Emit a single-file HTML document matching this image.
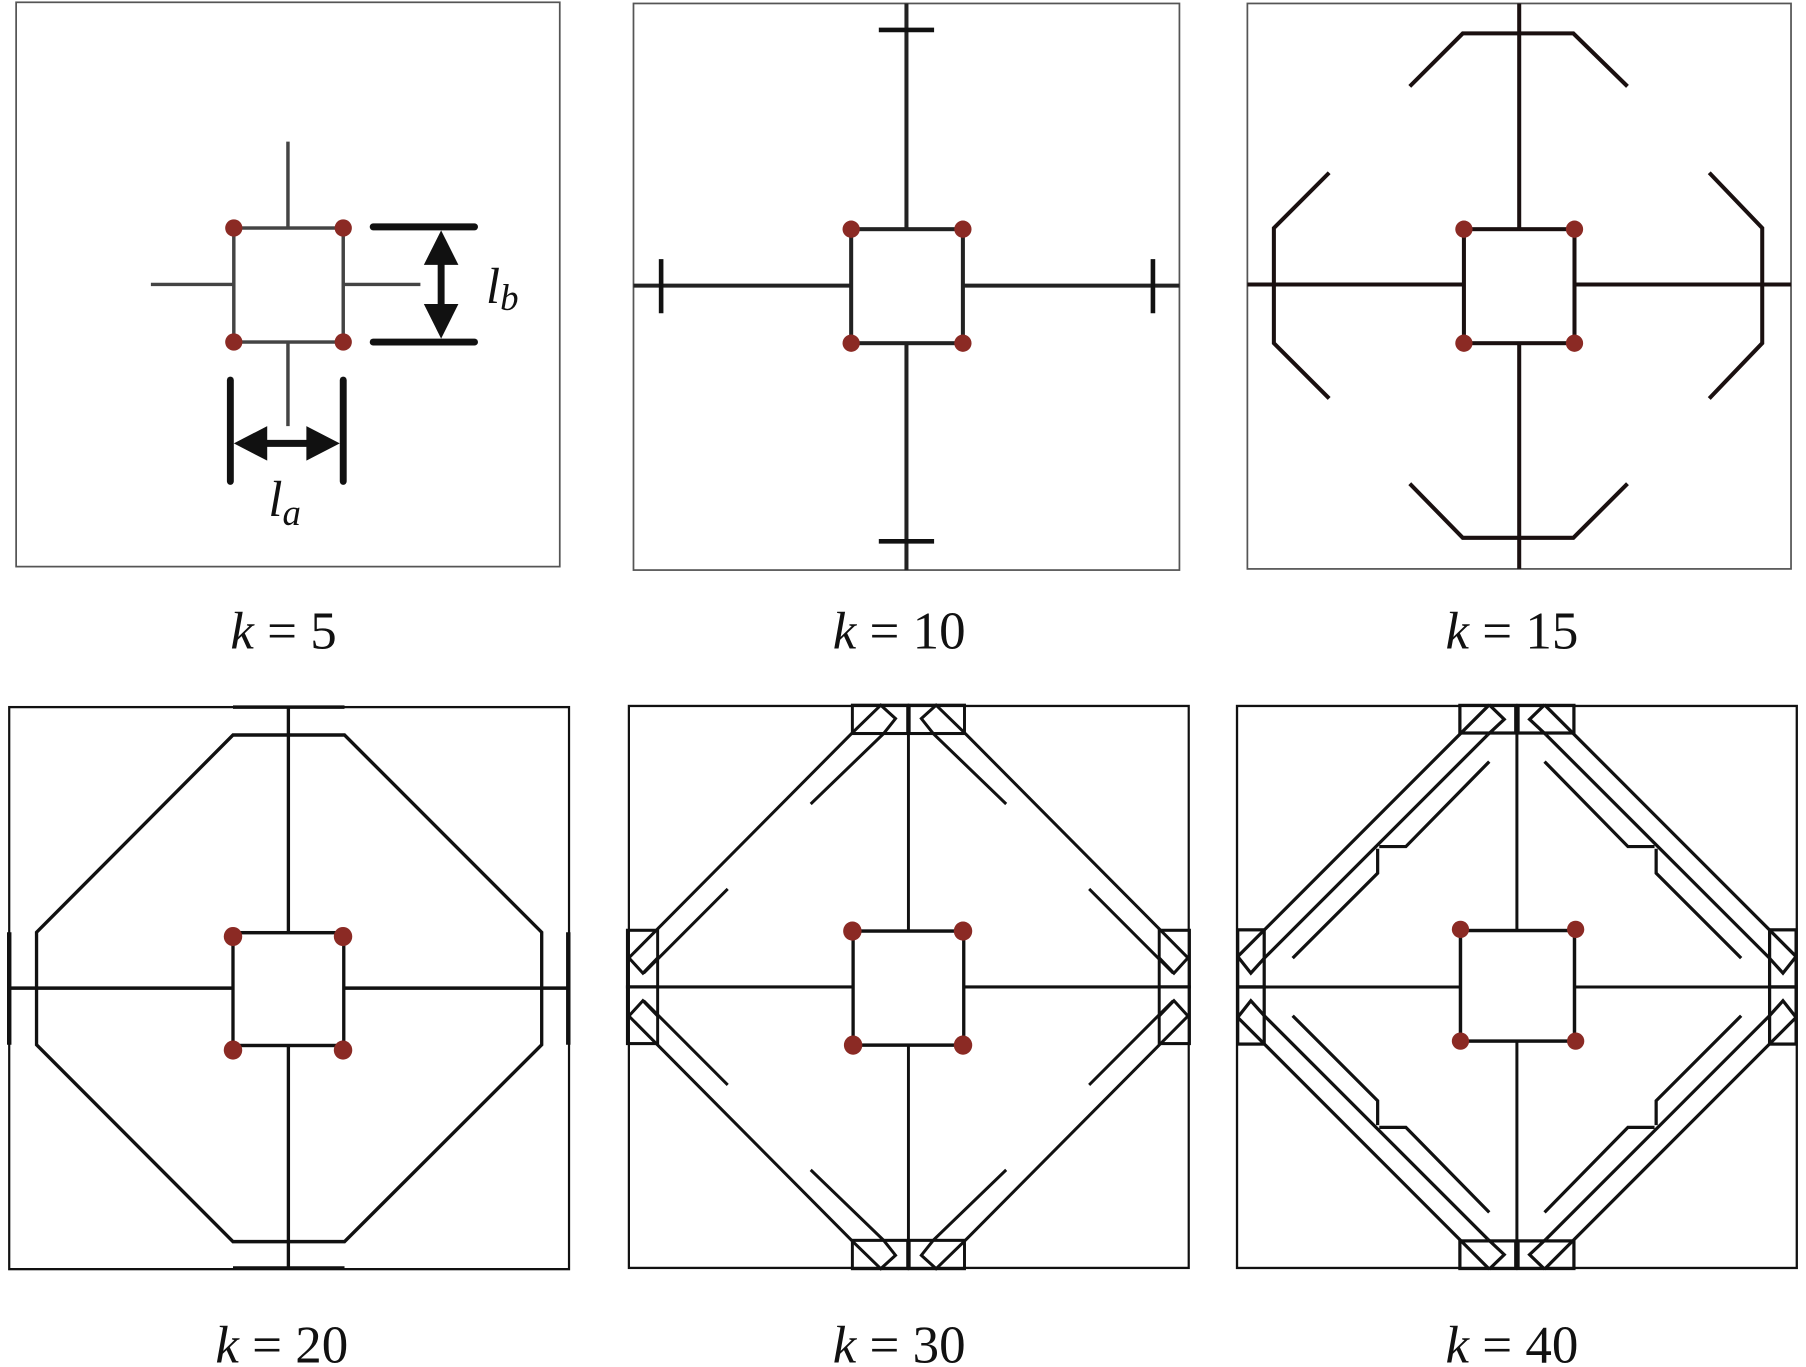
<!DOCTYPE html>
<html><head><meta charset="utf-8"><style>
html,body{margin:0;padding:0;background:#fff;}
svg{display:block;}
</style></head><body>
<svg width="1806" height="1367" viewBox="0 0 1568 1187" preserveAspectRatio="none" xmlns="http://www.w3.org/2000/svg" font-family="'Liberation Serif', serif">
<defs>
<g id="q5" fill="none" stroke="#111" stroke-width="8">
 <rect x="628" y="40" width="150" height="74"/>
 <polyline points="628,112 705,40 745,75 712,115"/>
 <line x1="628" y1="112" x2="22" y2="700"/>
 <line x1="712" y1="115" x2="515" y2="298"/>
 <line x1="290" y1="520" x2="62" y2="740"/>
 <polyline points="22,700 60,740 100,700"/>
 <rect x="18" y="628" width="82" height="148"/>
</g>
<g id="q6" fill="none" stroke="#111" stroke-width="2.8" stroke-linejoin="miter">
 <rect x="1267.5" y="612.5" width="48.5" height="24"/>
 <line x1="1293" y1="612" x2="1074.6" y2="830.6"/>
 <polyline points="1293,612 1306,624.6 1291.5,638.2"/>
 <line x1="1291.5" y1="638.2" x2="1097.7" y2="832"/>
 <polyline points="1074.6,830.6 1086,845 1097.7,832"/>
 <polyline points="1293,661.3 1220.6,735.1 1197.5,735.1"/>
 <polyline points="1196.1,737 1196.1,758.2 1122.3,832"/>
 <rect x="1074.6" y="807.4" width="23" height="49.6"/>
</g>
</defs>

<!-- Panel 1 -->
<rect x="14" y="2" width="472" height="490" fill="none" stroke="#555" stroke-width="1.5"/>
<g stroke="#444" stroke-width="3" fill="none">
 <rect x="203" y="198" width="95" height="99"/>
 <line x1="250" y1="123" x2="250" y2="198"/>
 <line x1="250" y1="297" x2="250" y2="370"/>
 <line x1="131" y1="247" x2="203" y2="247"/>
 <line x1="298" y1="247" x2="365" y2="247"/>
</g>
<g stroke="#111" stroke-width="6" stroke-linecap="round">
 <line x1="324" y1="197" x2="412" y2="197"/>
 <line x1="324" y1="297" x2="412" y2="297"/>
 <line x1="383" y1="215" x2="383" y2="280"/>
 <line x1="200" y1="330" x2="200" y2="418"/>
 <line x1="298" y1="330" x2="298" y2="418"/>
 <line x1="220" y1="385" x2="280" y2="385"/>
</g>
<g fill="#111">
 <polygon points="383,200 368,230 398,230"/>
 <polygon points="383,294 368,264 398,264"/>
 <polygon points="203,385 232,370 232,400"/>
 <polygon points="295,385 266,370 266,400"/>
</g>
<g fill="#8b2a24">
 <circle cx="203" cy="198" r="7.5"/><circle cx="298" cy="198" r="7.5"/>
 <circle cx="203" cy="297" r="7.5"/><circle cx="298" cy="297" r="7.5"/>
</g>
<text x="422" y="263" font-size="44" font-style="italic" fill="#111">l<tspan font-size="32" dy="6">b</tspan></text>
<text x="233" y="448" font-size="44" font-style="italic" fill="#111">l<tspan font-size="32" dy="8">a</tspan></text>

<!-- Panel 2 -->
<rect x="550" y="3" width="474" height="492" fill="none" stroke="#555" stroke-width="1.5"/>
<g stroke="#222" stroke-width="3.5" fill="none">
 <line x1="787" y1="3" x2="787" y2="495"/>
 <line x1="550" y1="248" x2="1024" y2="248"/>
 <rect x="739" y="199" width="97" height="99" fill="#fff"/>
</g>
<g stroke="#111" stroke-width="4">
 <line x1="763" y1="26" x2="811" y2="26"/>
 <line x1="763" y1="470" x2="811" y2="470"/>
 <line x1="574" y1="225" x2="574" y2="272"/>
 <line x1="1001" y1="225" x2="1001" y2="272"/>
</g>
<g fill="#8b2a24">
 <circle cx="739" cy="199" r="7.5"/><circle cx="836" cy="199" r="7.5"/>
 <circle cx="739" cy="298" r="7.5"/><circle cx="836" cy="298" r="7.5"/>
</g>

<!-- Panel 3 -->
<rect x="1083" y="3" width="472" height="491" fill="none" stroke="#555" stroke-width="1.5"/>
<g stroke="#1a1010" stroke-width="3.5" fill="none">
 <line x1="1319" y1="3" x2="1319" y2="494"/>
 <line x1="1083" y1="247" x2="1555" y2="247"/>
 <rect x="1271" y="199" width="96" height="99" fill="#fff"/>
 <polyline points="1224,75 1270,29 1366,29 1413,75"/>
 <polyline points="1224,420 1270,467 1366,467 1413,420"/>
 <polyline points="1154,150 1106,198 1106,298 1154,346"/>
 <polyline points="1484,150 1530,198 1530,298 1484,346"/>
</g>
<g fill="#8b2a24">
 <circle cx="1271" cy="199" r="7.5"/><circle cx="1367" cy="199" r="7.5"/>
 <circle cx="1271" cy="298" r="7.5"/><circle cx="1367" cy="298" r="7.5"/>
</g>

<!-- Panel 4 -->
<g transform="translate(0.31,599.06) scale(0.3206,0.332)">
 <rect x="24" y="45" width="1516" height="1470" fill="none" stroke="#111" stroke-width="6"/>
 <g fill="none" stroke="#111" stroke-width="9">
  <line x1="780" y1="45" x2="780" y2="1515"/>
  <line x1="24" y1="780" x2="1540" y2="780"/>
  <polygon points="630,118 932,118 1466,634 1466,928 932,1443 630,1443 98,928 98,634"/>
  <rect x="630" y="635" width="300" height="295" fill="#fff"/>
  <line x1="630" y1="45" x2="932" y2="45"/>
  <line x1="630" y1="1512" x2="932" y2="1512"/>
  <line x1="24" y1="634" x2="24" y2="928" stroke-width="12"/>
  <line x1="1538" y1="634" x2="1538" y2="928" stroke-width="12"/>
 </g>
 <g fill="#8b2a24">
  <circle cx="630" cy="645" r="25"/><circle cx="928" cy="645" r="25"/>
  <circle cx="630" cy="942" r="25"/><circle cx="928" cy="942" r="25"/>
 </g>
</g>

<!-- Panel 5 -->
<g transform="translate(538.96,599.04) scale(0.3202,0.3324)">
 <rect x="22" y="42" width="1518" height="1468" fill="none" stroke="#111" stroke-width="6"/>
 <g fill="none" stroke="#111" stroke-width="8">
  <line x1="780" y1="42" x2="780" y2="1510"/>
  <line x1="22" y1="776" x2="1540" y2="776"/>
 </g>
 <use href="#q5"/>
 <use href="#q5" transform="matrix(-1 0 0 1 1560 0)"/>
 <use href="#q5" transform="matrix(1 0 0 -1 0 1552)"/>
 <use href="#q5" transform="matrix(-1 0 0 -1 1560 1552)"/>
 <rect x="630" y="630" width="300" height="298" fill="#fff" stroke="#111" stroke-width="9"/>
 <g fill="#8b2a24">
  <circle cx="628" cy="630" r="25"/><circle cx="928" cy="630" r="25"/>
  <circle cx="630" cy="928" r="25"/><circle cx="928" cy="928" r="25"/>
 </g>
</g>

<!-- Panel 6 -->
<rect x="1074" y="613" width="486" height="488" fill="none" stroke="#111" stroke-width="2"/>
<g fill="none" stroke="#111" stroke-width="2.6">
 <line x1="1317" y1="613" x2="1317" y2="1101"/>
 <line x1="1074" y1="857" x2="1560" y2="857"/>
</g>
<use href="#q6"/>
<use href="#q6" transform="matrix(-1 0 0 1 2634 0)"/>
<use href="#q6" transform="matrix(1 0 0 -1 0 1714)"/>
<use href="#q6" transform="matrix(-1 0 0 -1 2634 1714)"/>
<rect x="1268" y="808" width="99" height="96" fill="#fff" stroke="#111" stroke-width="3"/>
<g fill="#8b2a24">
 <circle cx="1268" cy="807" r="7.5"/><circle cx="1368" cy="807" r="7.5"/>
 <circle cx="1268" cy="904" r="7.5"/><circle cx="1368" cy="904" r="7.5"/>
</g>

<!-- Labels -->
<g font-size="46" fill="#111" font-family="'Liberation Serif', serif">
 <text x="200" y="563"><tspan font-style="italic">k</tspan> = 5</text>
 <text x="723" y="563"><tspan font-style="italic">k</tspan> = 10</text>
 <text x="1255" y="563"><tspan font-style="italic">k</tspan> = 15</text>
 <text x="187" y="1183"><tspan font-style="italic">k</tspan> = 20</text>
 <text x="723" y="1183"><tspan font-style="italic">k</tspan> = 30</text>
 <text x="1255" y="1183"><tspan font-style="italic">k</tspan> = 40</text>
</g>
</svg>
</body></html>
